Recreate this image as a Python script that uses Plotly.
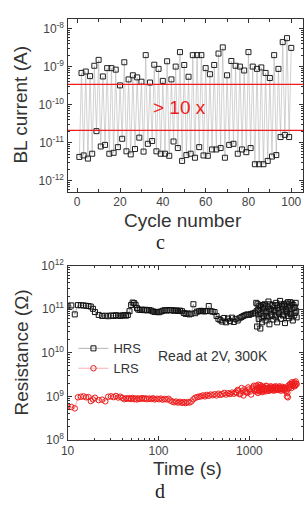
import plotly.graph_objects as go

# ---------------- (c) BL current vs cycle number ----------------
lrs_cycles = list(range(1, 100, 2))   # odd cycles -> low-current state
hrs_cycles = list(range(2, 101, 2))   # even cycles -> high-current state
low_current = [4.2e-12, 4.6e-12, 3.8e-12, 5.1e-12, 2.0e-11, 7.9e-12, 8.7e-12, 5.1e-12, 5.4e-12, 7.6e-12,
               1.26e-11, 5.9e-12, 4.9e-12, 6.8e-12, 1.35e-11, 5.8e-12, 9.3e-12, 1.1e-11, 5.9e-12, 5.1e-12,
               5.1e-12, 4.5e-12, 1.07e-11, 7.2e-12, 3.3e-12, 4.7e-12, 5.1e-12, 4.0e-12, 7.6e-12, 4.6e-12,
               4.5e-12, 6.6e-12, 6.6e-12, 7.2e-12, 4.0e-12, 8.7e-12, 9.3e-12, 5.1e-12, 6.6e-12, 5.6e-12,
               7.2e-12, 2.7e-12, 2.7e-12, 2.7e-12, 3.3e-12, 4.3e-12, 4.7e-12, 1.4e-11, 1.6e-11, 1.4e-11]
high_current = [6.8e-10, 7.4e-10, 5.6e-10, 1.05e-9, 1.5e-9, 5.5e-10, 9.1e-10, 9.1e-10, 8.3e-10, 3.2e-10,
                1.3e-9, 4.6e-10, 5.9e-10, 5.2e-10, 4.0e-10, 2.0e-9, 3.8e-10, 1.12e-9, 8.7e-10, 4.2e-10,
                1.38e-9, 4.6e-10, 1.0e-9, 2.4e-9, 1.1e-9, 5.4e-10, 2.0e-9, 2.0e-9, 2.0e-9, 9.1e-10,
                6.3e-10, 1.1e-9, 2.2e-9, 3.2e-9, 5.9e-10, 1.4e-9, 1.05e-9, 1.0e-9, 7.9e-10, 2.4e-9,
                1.0e-9, 8.7e-10, 9.5e-10, 6.8e-10, 5.0e-10, 2.0e-9, 8.7e-10, 4.4e-9, 5.6e-9, 3.1e-9]
upper_limit = 3.4e-10
lower_limit = 2.1e-11
ratio_label = "> 10 x"

# ---------------- (d) retention ----------------
time_s = [10, 11, 12, 13, 14, 15, 16, 17, 18, 19,
          20, 22, 24, 26, 28, 30, 32, 34, 36, 38, 40, 42, 44, 46, 48, 50, 52, 54, 56, 58, 60,
          63, 66, 69, 72, 75, 79, 83, 87, 91, 96, 101, 106, 111, 117, 123, 129, 135, 142, 149, 156,
          164, 172, 181, 190, 199, 209, 219, 230, 242, 254, 267, 280, 294,
          309, 324, 340, 357, 375, 394, 414, 435, 456, 479, 503, 528, 554, 582, 611, 642, 674, 707,
          743, 780, 819, 860, 903, 948, 995, 1045, 1097, 1152,
          1190, 1215, 1240, 1265, 1290, 1320, 1350, 1380, 1410, 1440, 1475, 1510, 1545, 1580, 1620,
          1660, 1700, 1740, 1785, 1830, 1875, 1920, 1970, 2020, 2070, 2120, 2175, 2230, 2285, 2340,
          2400, 2460, 2520, 2585, 2650, 2715, 2785, 2855, 2925, 3000, 3075, 3150, 3230, 3310]
hrs_ohm = [1.20e11, 1.22e11, 7.6e10, 1.24e11, 1.23e11, 1.22e11, 1.20e11, 1.18e11, 1.15e11, 1.02e11,
           8.6e10, 7.4e10, 7.0e10, 7.1e10, 6.9e10, 7.2e10, 7.0e10, 7.3e10, 7.1e10, 7.0e10, 7.2e10,
           7.3e10, 7.1e10, 7.4e10, 9.0e10, 1.25e11, 1.42e11, 1.38e11, 1.26e11, 1.06e11, 9.8e10,
           9.6e10, 9.8e10, 9.5e10, 9.7e10, 9.4e10, 9.6e10, 9.3e10, 8.9e10, 8.6e10, 8.7e10, 8.5e10,
           8.8e10, 9.2e10, 9.5e10, 9.3e10, 9.6e10, 9.4e10, 9.5e10, 9.2e10, 9.4e10, 9.1e10, 9.3e10,
           9.0e10, 8.2e10, 7.8e10, 8.0e10, 7.6e10, 7.9e10, 1.30e11, 8.1e10, 8.8e10, 9.0e10, 9.2e10,
           9.0e10, 8.9e10, 9.1e10, 1.18e11, 9.0e10, 8.8e10, 8.6e10, 7.0e10, 6.0e10, 5.6e10, 5.2e10,
           6.3e10, 5.0e10, 6.1e10, 5.3e10, 6.4e10, 5.1e10, 6.0e10, 5.5e10, 6.2e10, 6.6e10, 7.0e10,
           7.3e10, 7.6e10, 7.4e10, 7.8e10, 8.0e10, 8.3e10,
           1.40e11, 4.0e10, 9.5e10, 6.0e10, 1.2e11, 3.6e10, 8.0e10, 5.0e10, 1.1e11, 7.0e10, 1.3e11,
           5.5e10, 9.0e10, 6.5e10, 1.5e11, 4.5e10, 1.0e11, 7.5e10, 1.25e11, 5.8e10, 9.5e10, 6.8e10,
           1.4e11, 5.0e10, 1.05e11, 8.0e10, 1.55e11, 6.0e10, 1.15e11, 7.2e10, 1.3e11, 4.8e10, 1.0e11,
           8.5e10, 1.45e11, 6.2e10, 1.2e11, 7.8e10, 1.35e11, 5.5e10, 1.1e11, 8.2e10, 1.4e11, 6.5e10]
lrs_ohm = [5.8e8, 5.7e8, 5.3e8, 9.5e8, 9.8e8, 1.0e9, 9.5e8, 9.6e8, 7.8e8, 8.5e8,
           9.3e8, 8.2e8, 8.4e8, 7.7e8, 9.8e8, 1.0e9, 9.6e8, 1.02e9, 9.4e8, 9.8e8, 9.2e8,
           8.6e8, 9.0e8, 8.8e8, 9.1e8, 8.7e8, 9.2e8, 8.6e8, 8.9e8, 8.5e8, 9.0e8,
           8.7e8, 9.1e8, 8.8e8, 9.0e8, 8.6e8, 8.9e8, 8.7e8, 9.0e8, 8.5e8, 8.8e8, 8.6e8,
           8.9e8, 8.4e8, 8.7e8, 8.5e8, 8.8e8, 8.0e8, 7.6e8, 7.3e8, 7.6e8, 7.2e8, 7.5e8,
           7.1e8, 7.4e8, 7.0e8, 7.4e8, 7.2e8, 7.6e8, 8.6e8, 9.3e8, 9.6e8, 9.9e8, 1.0e9,
           1.05e9, 1.0e9, 1.08e9, 1.03e9, 1.1e9, 1.06e9, 1.12e9, 1.05e9, 1.15e9, 1.08e9, 1.12e9,
           1.2e9, 1.1e9, 1.18e9, 1.13e9, 1.22e9, 1.15e9, 1.25e9, 1.4e9, 1.12e9, 1.55e9, 1.05e9,
           1.3e9, 1.2e9, 1.45e9, 1.1e9, 1.6e9, 1.35e9,
           1.75e9, 1.4e9, 1.2e9, 1.6e9, 1.3e9, 1.8e9, 1.45e9, 1.25e9, 1.65e9, 1.4e9, 1.5e9,
           1.3e9, 1.7e9, 1.45e9, 1.55e9, 1.35e9, 1.6e9, 1.45e9, 1.5e9, 1.4e9, 1.65e9, 1.5e9,
           1.4e9, 1.55e9, 1.45e9, 1.6e9, 1.5e9, 1.35e9, 1.55e9, 1.45e9, 1.4e9, 1.5e9, 1.3e9,
           1.0e9, 0.95e9, 1.6e9, 1.9e9, 1.7e9, 2.1e9, 1.8e9, 2.0e9, 1.7e9, 2.2e9, 1.9e9]
# extra read-outs inside the scattered HRS cluster after ~1200 s
hrs_extra_t = [1200, 1230, 1255, 1280, 1305, 1335, 1365, 1395, 1425, 1460, 1495, 1530, 1565,
               1600, 1640, 1680, 1720, 1760, 1805, 1850, 1900, 1945, 1995, 2045, 2095, 2150,
               2200, 2255, 2310, 2370, 2430, 2490, 2550, 2615, 2680, 2750, 2820, 2890, 2960,
               3040, 3110, 3190, 3270]
hrs_extra_r = [9.0e10, 1.3e11, 7.5e10, 1.0e11, 8.5e10, 1.15e11, 6.5e10, 1.25e11, 9.0e10, 1.05e11,
               8.0e10, 1.2e11, 7.0e10, 1.1e11, 8.5e10, 1.3e11, 9.0e10, 7.0e10, 1.05e11, 8.8e10,
               1.2e11, 9.2e10, 7.5e10, 1.25e11, 9.5e10, 1.1e11, 8.5e10, 1.3e11, 9.5e10, 7.5e10,
               1.2e11, 8.8e10, 1.35e11, 7.0e10, 1.05e11, 9.5e10, 1.45e11, 6.8e10, 1.0e11, 1.25e11,
               7.2e10, 1.1e11, 9.0e10]
# extra read-outs inside the broad LRS band after ~700 s
lrs_extra_t = [720, 760, 800, 840, 880, 925, 970, 1020, 1070, 1120, 1170,
               1200, 1230, 1255, 1280, 1305, 1335, 1365, 1395, 1425, 1460, 1495, 1530, 1565,
               1600, 1640, 1680, 1720, 1760, 1805, 1850, 1900, 1945, 1995, 2045, 2095, 2150,
               2200, 2255, 2310, 2370, 2430, 2490, 2550, 2615, 2680, 2750, 2820, 2890, 2960,
               3040, 3110, 3190, 3270]
lrs_extra_r = [1.2e9, 1.35e9, 1.15e9, 1.3e9, 1.45e9, 1.25e9, 1.6e9, 1.3e9, 1.5e9, 1.75e9,
               1.45e9, 1.3e9, 1.55e9, 1.85e9, 1.4e9, 1.6e9, 1.35e9, 1.7e9, 1.5e9, 1.3e9,
               1.6e9, 1.45e9, 1.75e9, 1.55e9, 1.35e9, 1.6e9, 1.4e9, 1.7e9, 1.5e9, 1.6e9,
               1.35e9, 1.55e9, 1.7e9, 1.45e9, 1.6e9, 1.4e9, 1.7e9, 1.55e9, 1.45e9, 1.65e9,
               1.5e9, 1.6e9, 1.4e9, 1.55e9, 1.2e9, 1.75e9, 1.6e9, 1.85e9, 1.55e9, 1.95e9,
               1.75e9, 2.1e9, 1.8e9, 1.95e9]
note_text = "Read at 2V, 300K"

# ---------------- figure ----------------
W, H = 305, 506
FONT = "Liberation Sans, Arial, sans-serif"
AX = "#333333"
RED = "#ee1c1c"

all_cycles, all_current = [], []
for i in range(len(lrs_cycles)):
    all_cycles += [lrs_cycles[i], hrs_cycles[i]]
    all_current += [low_current[i], high_current[i]]

fig = go.Figure()
fig.add_trace(go.Scatter(x=all_cycles, y=all_current, mode="lines",
                         line=dict(color="#b4b4b4", width=0.6),
                         xaxis="x", yaxis="y", showlegend=False, hoverinfo="skip"))
fig.add_trace(go.Scatter(x=all_cycles, y=all_current, mode="markers",
                         marker=dict(symbol="square-open", size=5, color="#222",
                                     line=dict(width=1, color="#222")),
                         xaxis="x", yaxis="y", showlegend=False))
for lim in (upper_limit, lower_limit):
    fig.add_trace(go.Scatter(x=[-4.5, 105.5], y=[lim, lim], mode="lines",
                             line=dict(color=RED, width=1.3),
                             xaxis="x", yaxis="y", showlegend=False, hoverinfo="skip"))

sq = dict(symbol="square-open", size=5, color="#111", line=dict(width=1, color="#111"))
ci = dict(symbol="circle-open", size=5.5, color=RED, line=dict(width=1, color=RED))
fig.add_trace(go.Scatter(x=hrs_extra_t, y=hrs_extra_r, mode="markers", marker=sq,
                         xaxis="x2", yaxis="y2", showlegend=False))
fig.add_trace(go.Scatter(x=lrs_extra_t, y=lrs_extra_r, mode="markers", marker=ci,
                         xaxis="x2", yaxis="y2", showlegend=False))
fig.add_trace(go.Scatter(x=time_s, y=hrs_ohm, mode="lines+markers", name="HRS",
                         line=dict(color="#808080", width=0.6), marker=sq,
                         xaxis="x2", yaxis="y2"))
fig.add_trace(go.Scatter(x=time_s, y=lrs_ohm, mode="lines+markers", name="LRS",
                         line=dict(color="#f27a7a", width=0.6), marker=ci,
                         xaxis="x2", yaxis="y2"))

x_dom = [62 / W, 303 / W]
top_dom = [1 - 189 / H, 1 - 10 / H]
bot_dom = [1 - 445 / H, 1 - 265 / H]

axis_common = dict(showline=True, linecolor=AX, linewidth=1.3, mirror="ticks",
                   ticks="inside", ticklen=4, tickwidth=1, tickcolor=AX,
                   showgrid=False, zeroline=False,
                   tickfont=dict(family=FONT, size=12, color="#444"))


def log_minor(lo, hi):
    vals = []
    for e in range(lo, hi):
        vals += [m * 10 ** e for m in range(2, 10)]
    return vals


fig.update_layout(
    width=W, height=H, margin=dict(l=0, r=0, t=0, b=0),
    paper_bgcolor="white", plot_bgcolor="white",
    font=dict(family=FONT, color="#333"),
    xaxis=dict(domain=x_dom, anchor="y", range=[-4.5, 105.5],
               tickvals=[0, 20, 40, 60, 80, 100],
               minor=dict(tickvals=[10, 30, 50, 70, 90], ticks="inside", ticklen=3, tickcolor=AX),
               ticklabelstandoff=-2,
               **axis_common),
    yaxis=dict(domain=top_dom, anchor="x", type="log", range=[-12.3, -7.74],
               tickvals=[1e-12, 1e-11, 1e-10, 1e-9, 1e-8],
               ticktext=["10<sup>-12</sup>", "10<sup>-11</sup>", "10<sup>-10</sup>",
                         "10<sup>-9</sup>", "10<sup>-8</sup>"],
               minor=dict(tickvals=log_minor(-13, -7), ticks="inside", ticklen=2, tickcolor=AX),
               **axis_common),
    xaxis2=dict(domain=x_dom, anchor="y2", type="log", range=[1, 3.59],
                tickvals=[10, 100, 1000], ticktext=["10", "100", "1000"],
                minor=dict(tickvals=log_minor(1, 4), ticks="inside", ticklen=2, tickcolor=AX),
                **axis_common),
    yaxis2=dict(domain=bot_dom, anchor="x2", type="log", range=[8, 12],
                tickvals=[1e8, 1e9, 1e10, 1e11, 1e12],
                ticktext=["10<sup>8</sup>", "10<sup>9</sup>", "10<sup>10</sup>",
                          "10<sup>11</sup>", "10<sup>12</sup>"],
                minor=dict(tickvals=log_minor(8, 12), ticks="inside", ticklen=2, tickcolor=AX),
                **axis_common),
    legend=dict(x=68 / W, y=1 - 335 / H, xanchor="left", yanchor="top",
                bgcolor="rgba(0,0,0,0)", font=dict(family=FONT, size=13, color="#333"),
                itemwidth=30, tracegroupgap=0),
    showlegend=True,
)

ann = [
    dict(text="BL current (A)", x=14 / W, y=1 - 99 / H, textangle=-90, font=dict(size=19)),
    dict(text="Cycle number", x=180 / W, y=1 - 218 / H, font=dict(size=19)),
    dict(text="c", x=157 / W, y=1 - 241 / H,
         font=dict(size=20, family="Liberation Serif, Times New Roman, serif", color="#222")),
    dict(text=ratio_label, x=177 / W, y=1 - 102 / H, font=dict(size=19, color=RED)),
    dict(text="Resistance (Ω)", x=15 / W, y=1 - 355 / H, textangle=-90, font=dict(size=19)),
    dict(text="Time (s)", x=185 / W, y=1 - 475 / H, font=dict(size=19)),
    dict(text="d", x=157 / W, y=1 - 498 / H,
         font=dict(size=20, family="Liberation Serif, Times New Roman, serif", color="#222")),
    dict(text=note_text, x=211 / W, y=1 - 358 / H, font=dict(size=14)),
]
for a in ann:
    a.update(xref="paper", yref="paper", showarrow=False, xanchor="center", yanchor="middle")
    a["font"].setdefault("family", FONT)
    a["font"].setdefault("color", "#333")
fig.update_layout(annotations=ann)

fig.write_html("out.html", config={"displayModeBar": False})
with open("out.html", "r", encoding="utf-8") as fh:
    html = fh.read()
html = html.replace("<head>", "<head><style>html,body{margin:0;padding:0;overflow:hidden}</style>", 1)
with open("out.html", "w", encoding="utf-8") as fh:
    fh.write(html)
